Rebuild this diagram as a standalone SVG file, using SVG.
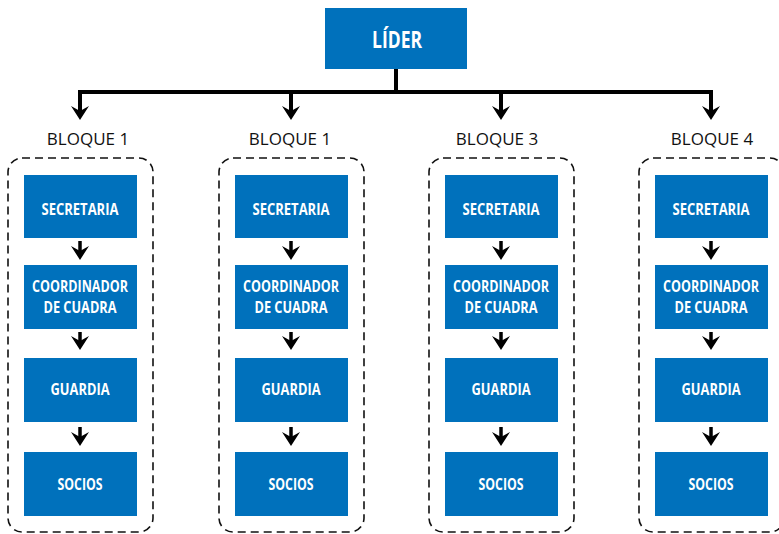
<svg xmlns="http://www.w3.org/2000/svg" width="779" height="534" viewBox="0 0 779 534">
<style>
.box{fill:#0071BC}
.bt{font-family:"Open Sans","Noto Sans",sans-serif;font-weight:bold;fill:#fff;text-anchor:middle}
.lbl{font-family:"Open Sans","Noto Sans",sans-serif;font-size:17px;fill:#111;text-anchor:middle}
.dash{fill:none;stroke:#111;stroke-width:1.6;stroke-dasharray:8 5}
.ln{fill:none;stroke:#000;stroke-width:4}
.sl{fill:none;stroke:#000;stroke-width:3.5}
</style>
<defs>
<marker id="ah" viewBox="0 0 14 18" refX="5" refY="9" markerWidth="14" markerHeight="18" markerUnits="userSpaceOnUse" orient="auto">
<path d="M0,0 L14,9 L0,18 L5,9 Z" fill="#000"/>
</marker>
<g id="col">
<rect class="dash" x="-72" y="158" width="145" height="374" rx="14"/>
<rect class="box" x="-56" y="175" width="113" height="63"/>
<text class="bt" x="0" y="215" font-size="16" textLength="77" lengthAdjust="spacingAndGlyphs">SECRETARIA</text>
<rect class="box" x="-56" y="265" width="113" height="64"/>
<text class="bt" x="0" y="292" font-size="16" textLength="96" lengthAdjust="spacingAndGlyphs">COORDINADOR</text>
<text class="bt" x="0" y="313" font-size="16" textLength="73" lengthAdjust="spacingAndGlyphs">DE CUADRA</text>
<rect class="box" x="-56" y="358" width="113" height="64"/>
<text class="bt" x="0" y="395" font-size="16" textLength="59" lengthAdjust="spacingAndGlyphs">GUARDIA</text>
<rect class="box" x="-56" y="452" width="113" height="64"/>
<text class="bt" x="0" y="490" font-size="16" textLength="45" lengthAdjust="spacingAndGlyphs">SOCIOS</text>
<line class="sl" x1="0" y1="241" x2="0" y2="251" marker-end="url(#ah)"/>
<line class="sl" x1="0" y1="332" x2="0" y2="341" marker-end="url(#ah)"/>
<line class="sl" x1="0" y1="427" x2="0" y2="437" marker-end="url(#ah)"/>
</g>
</defs>
<g id="lider">
<rect class="box" x="325" y="8" width="142" height="61"/>
<text class="bt" x="397" y="48" font-size="23" textLength="50" lengthAdjust="spacingAndGlyphs">LÍDER</text>
</g>
<g id="connectors">
<line class="ln" x1="396" y1="69" x2="396" y2="92"/>
<line class="ln" x1="78" y1="92" x2="713" y2="92"/>
<line class="ln" x1="80" y1="90" x2="80" y2="111" marker-end="url(#ah)"/>
<line class="ln" x1="291" y1="90" x2="291" y2="111" marker-end="url(#ah)"/>
<line class="ln" x1="501" y1="90" x2="501" y2="111" marker-end="url(#ah)"/>
<line class="ln" x1="711" y1="90" x2="711" y2="111" marker-end="url(#ah)"/>
</g>
<g id="bloque1">
<text class="lbl" x="88" y="145">BLOQUE 1</text>
<use href="#col" x="80"/>
</g>
<g id="bloque2">
<text class="lbl" x="290" y="145">BLOQUE 1</text>
<use href="#col" x="291"/>
</g>
<g id="bloque3">
<text class="lbl" x="497" y="145">BLOQUE 3</text>
<use href="#col" x="501"/>
</g>
<g id="bloque4">
<text class="lbl" x="712" y="145">BLOQUE 4</text>
<use href="#col" x="711"/>
</g>
</svg>
